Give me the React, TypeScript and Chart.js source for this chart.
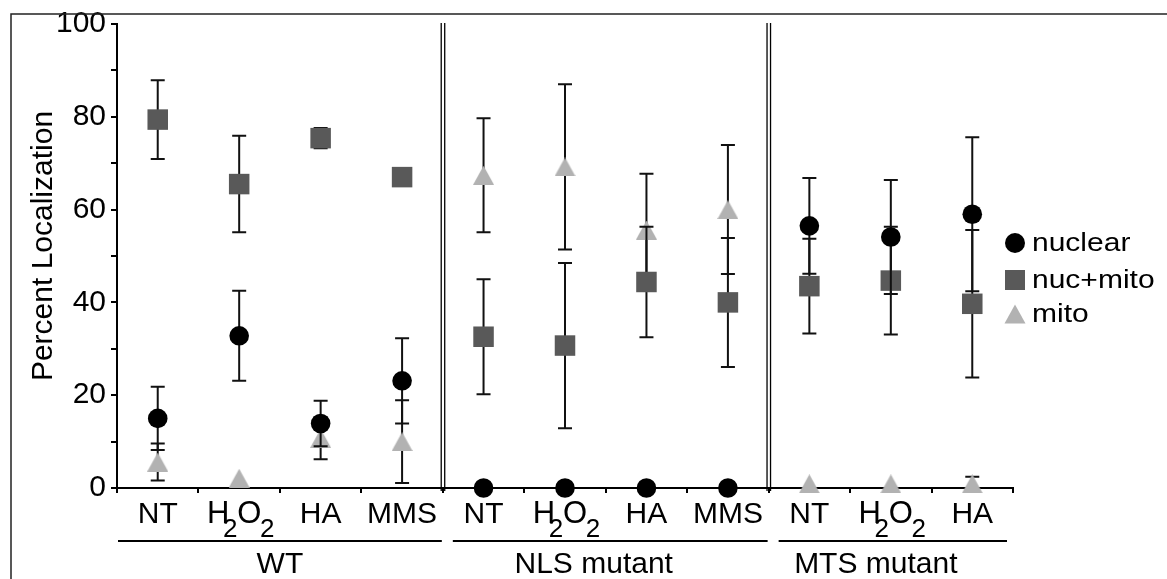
import React, { useEffect, useRef } from 'react';
import { Chart, registerables } from 'chart.js';

Chart.register(...registerables);

// ---------------- data ----------------
const categories = ['NT', 'H2O2', 'HA', 'MMS', 'NT', 'H2O2', 'HA', 'MMS', 'NT', 'H2O2', 'HA'];
const groupNames = ['WT', 'NLS mutant', 'MTS mutant'];
const groupSizes = [4, 4, 3];
const seriesNames = ['nuclear', 'nuc+mito', 'mito'];

const nuclearMean = [15.0, 32.8, 13.9, 23.1, 0, 0, 0, 0, 56.5, 54.1, 59.0];
const nuclearSD = [6.8, 9.7, 4.9, 9.2, 0, 0, 0, 0, 10.3, 12.3, 16.6];
const nucMitoMean = [79.4, 65.5, 75.4, 67.0, 32.6, 30.7, 44.4, 40.0, 43.5, 44.7, 39.7];
const nucMitoSD = [8.5, 10.4, 2.2, 0, 12.4, 17.8, 11.9, 13.9, 10.2, 11.6, 15.9];
const mitoMean = [5.6, 2.1, 10.7, 10.0, 67.4, 69.2, 55.6, 60.0, 0.9, 0.9, 0.9];
const mitoSD = [4.0, 0, 4.5, 8.9, 12.3, 17.8, 12.1, 13.9, 0, 0, 1.5];

const yMin = 0;
const yMax = 100;
const yStep = 10;
const yLabelEvery = 20;
const yTitle = 'Percent Localization';

// ---------------- style ----------------
const FONT = '"Liberation Sans", Arial, Helvetica, sans-serif';
const NUC_COLOR = '#000000';
const NUCMITO_COLOR = '#595959';
const MITO_COLOR = '#b2b2b2';
const W = 1167;
const H = 579;

function makeTriangle(w: number, h: number, color: string) {
  const c = document.createElement('canvas');
  c.width = w;
  c.height = h;
  const ctx = c.getContext('2d')!;
  ctx.fillStyle = color;
  ctx.beginPath();
  ctx.moveTo(w / 2, 0);
  ctx.lineTo(w, h);
  ctx.lineTo(0, h);
  ctx.closePath();
  ctx.fill();
  return c;
}

const errArrays = [nuclearSD, nucMitoSD, mitoSD];

const errorBarPlugin = {
  id: 'errbars',
  beforeDatasetDraw(chart: any, args: any) {
    const sd = errArrays[args.index];
    if (!sd) return;
    const ctx = chart.ctx;
    const y = chart.scales.y;
    const meta = args.meta;
    const vals = chart.data.datasets[args.index].data as number[];
    ctx.save();
    ctx.strokeStyle = '#111';
    ctx.lineWidth = 2;
    for (let i = 0; i < vals.length; i++) {
      const s = sd[i];
      if (!s) continue;
      const x = meta.data[i].x;
      const yt = y.getPixelForValue(vals[i] + s);
      const yb = y.getPixelForValue(vals[i] - s);
      ctx.beginPath();
      ctx.moveTo(x, yt);
      ctx.lineTo(x, yb);
      ctx.moveTo(x - 7, yt);
      ctx.lineTo(x + 7, yt);
      ctx.moveTo(x - 7, yb);
      ctx.lineTo(x + 7, yb);
      ctx.stroke();
    }
    ctx.restore();
  },
};

// centre offsets (px from the category centre) of each part of a label with subscripts
const subLabelCenters = [-21, -9, 10, 28];

function drawCatLabel(ctx: CanvasRenderingContext2D, text: string, cx: number, base: number) {
  const parts = text.match(/[A-Za-z]|\d+/g) || [text];
  const hasSub = /\d/.test(text);
  ctx.fillStyle = '#000';
  ctx.textBaseline = 'alphabetic';
  ctx.textAlign = 'center';
  if (!hasSub) {
    ctx.font = `30px ${FONT}`;
    ctx.fillText(text, cx, base);
    return;
  }
  parts.forEach((p, k) => {
    const sub = /\d/.test(p);
    ctx.font = sub ? `26px ${FONT}` : `31px ${FONT}`;
    ctx.fillText(p, cx + (subLabelCenters[k] || 0), sub ? base + 14 : base);
  });
}

const groupLabelShift = [0, -12, -15];
const groupLineInset = [[1, 1], [10, 1], [10, 6]];

const decorPlugin = {
  id: 'decor',
  afterDraw(chart: any) {
    const ctx: CanvasRenderingContext2D = chart.ctx;
    const xs = chart.scales.x;
    const area = chart.chartArea;
    const half = (xs.getPixelForValue(1) - xs.getPixelForValue(0)) / 2;
    ctx.save();

    // outer frame lines (top & left)
    ctx.strokeStyle = '#222';
    ctx.lineWidth = 1.5;
    ctx.beginPath();
    ctx.moveTo(11, H);
    ctx.lineTo(11, 14);
    ctx.lineTo(W, 14);
    ctx.stroke();

    // group separators (double lines)
    let idx = 0;
    const bounds: number[] = [xs.getPixelForValue(0) - half];
    for (const n of groupSizes) {
      idx += n;
      bounds.push(xs.getPixelForValue(idx - 1) + half);
    }
    ctx.strokeStyle = '#000';
    ctx.lineWidth = 1.3;
    for (let g = 1; g < bounds.length - 1; g++) {
      const bx = bounds[g];
      for (const off of [-1.6, 1.9]) {
        ctx.beginPath();
        ctx.moveTo(bx + off, area.top - 1);
        ctx.lineTo(bx + off, area.bottom + 3);
        ctx.stroke();
      }
    }

    // category labels
    for (let i = 0; i < categories.length; i++) {
      drawCatLabel(ctx, categories[i], xs.getPixelForValue(i), 523);
    }

    // group lines and labels
    ctx.strokeStyle = '#000';
    ctx.lineWidth = 2;
    ctx.font = `30px ${FONT}`;
    ctx.textAlign = 'center';
    ctx.textBaseline = 'alphabetic';
    ctx.fillStyle = '#000';
    for (let g = 0; g < groupNames.length; g++) {
      const x0 = bounds[g] + groupLineInset[g][0];
      const x1 = bounds[g + 1] - groupLineInset[g][1];
      ctx.beginPath();
      ctx.moveTo(x0, 541);
      ctx.lineTo(x1, 541);
      ctx.stroke();
      ctx.fillText(groupNames[g], (bounds[g] + bounds[g + 1]) / 2 + groupLabelShift[g], 573);
    }

    // y title
    ctx.save();
    ctx.translate(52, 246);
    ctx.rotate(-Math.PI / 2);
    ctx.font = `30px ${FONT}`;
    ctx.textAlign = 'center';
    ctx.textBaseline = 'alphabetic';
    ctx.fillText(yTitle, 0, 0);
    ctx.restore();

    // legend
    const lx = 1015;
    const rows = [243, 280, 314];
    ctx.fillStyle = NUC_COLOR;
    ctx.beginPath();
    ctx.arc(lx, rows[0], 10, 0, Math.PI * 2);
    ctx.fill();
    ctx.fillStyle = NUCMITO_COLOR;
    ctx.fillRect(lx - 10, rows[1] - 10, 20, 20);
    ctx.fillStyle = MITO_COLOR;
    ctx.beginPath();
    ctx.moveTo(lx, rows[2] - 9.5);
    ctx.lineTo(lx + 10.5, rows[2] + 9.5);
    ctx.lineTo(lx - 10.5, rows[2] + 9.5);
    ctx.closePath();
    ctx.fill();
    ctx.fillStyle = '#000';
    ctx.font = `25px ${FONT}`;
    ctx.textAlign = 'left';
    for (let i = 0; i < seriesNames.length; i++) {
      ctx.save();
      ctx.translate(1032, rows[i] + 7.5);
      ctx.scale(1.2, 1);
      ctx.fillText(seriesNames[i], 0, 0);
      ctx.restore();
    }

    ctx.restore();
  },
};

export default function App() {
  const ref = useRef<HTMLCanvasElement>(null);
  useEffect(() => {
    const canvas = ref.current!;
    const tri = makeTriangle(21, 19, MITO_COLOR);
    const chart = new Chart(canvas, {
      type: 'line',
      data: {
        labels: categories,
        datasets: [
          {
            label: seriesNames[0],
            data: nuclearMean,
            showLine: false,
            pointStyle: 'circle',
            pointRadius: 9.8,
            pointHoverRadius: 9.8,
            pointBackgroundColor: NUC_COLOR,
            pointBorderWidth: 0,
            borderColor: NUC_COLOR,
            clip: false,
          } as any,
          {
            label: seriesNames[1],
            data: nucMitoMean,
            showLine: false,
            pointStyle: 'rect',
            pointRadius: 14.5,
            pointHoverRadius: 14.5,
            pointBackgroundColor: NUCMITO_COLOR,
            pointBorderWidth: 0,
            borderColor: NUCMITO_COLOR,
            clip: false,
          } as any,
          {
            label: seriesNames[2],
            data: mitoMean,
            showLine: false,
            pointStyle: tri,
            pointRadius: 10,
            pointHoverRadius: 10,
            pointBackgroundColor: MITO_COLOR,
            pointBorderWidth: 0,
            borderColor: MITO_COLOR,
            clip: false,
          } as any,
        ],
      },
      options: {
        responsive: false,
        animation: false,
        devicePixelRatio: 1,
        events: [],
        layout: { padding: { left: 0, top: 24, right: 154, bottom: 85 } },
        plugins: {
          legend: { display: false },
          tooltip: { enabled: false },
          title: { display: false },
        },
        scales: {
          x: {
            type: 'category',
            offset: true,
            grid: {
              offset: true,
              drawOnChartArea: false,
              drawTicks: true,
              tickLength: 5,
              color: '#000',
              lineWidth: 2,
            },
            border: { display: true, color: '#000', width: 2 },
            ticks: { display: false },
            afterFit: (s: any) => {
              s.height = 6;
            },
          },
          y: {
            min: yMin,
            max: yMax,
            ticks: {
              stepSize: yStep,
              autoSkip: false,
              padding: 5,
              color: '#000',
              font: { size: 30, family: FONT },
              callback: (v: any) => (Number(v) % yLabelEvery === 0 ? String(v) : ''),
            },
            grid: {
              drawOnChartArea: false,
              drawTicks: true,
              tickLength: 6,
              color: '#000',
              lineWidth: 2,
            },
            border: { display: true, color: '#000', width: 2 },
            afterFit: (s: any) => {
              s.width = 117;
            },
          },
        },
      } as any,
      plugins: [errorBarPlugin, decorPlugin],
    });
    return () => chart.destroy();
  }, []);
  return (
    <div style={{ position: 'absolute', left: 0, top: 0, width: W, height: H, background: '#fff' }}>
      <canvas ref={ref} width={W} height={H} style={{ width: W, height: H, display: 'block' }} />
    </div>
  );
}
